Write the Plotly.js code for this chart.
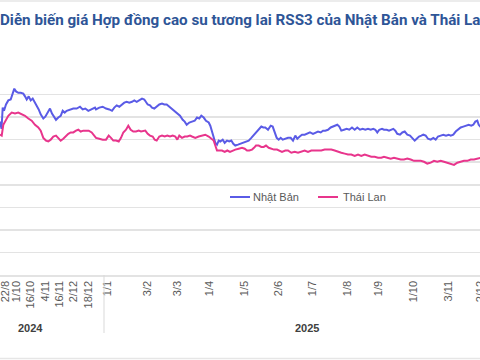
<!DOCTYPE html>
<html>
<head>
<meta charset="utf-8">
<script src="https://cdn.plot.ly/plotly-3.0.1.min.js"></script>
<style>html,body{margin:0;padding:0;background:#fff;}#chart{width:480px;height:360px;}</style>
</head>
<body>
<div id="chart"></div>
<script>
// Session position (trading-day scale of the category axis) and price levels
const jpX = [0,1.5,2.7,4,6,8.3,10.7,12.7,14.3,16,18.3,20.7,23.3,25,26.7,28.7,30.7,32.7,34.7,36.7,38.7,40.7,43.3,45.3,47.3,50,52,54,56,58.3,60.7,62.7,64.7,66.7,70,73.3,76.7,80,82.7,85.3,88.3,91.7,95,
96,99.3,102.7,106,109.3,112,114.3,116.7,119.3,122,124.3,126.7,129.3,132,134.3,136.7,139.3,142,144.3,146,147.7,150,152,154.3,156.7,159.3,162,164.3,166.7,169.3,172,174.7,177.3,180,182.7,184.7,186.7,189.3,192,
194.7,197,199.3,201.3,203.7,206,208.7,210.3,212,213.7,215.3,217,218.7,220.3,222.7,224.7,227,229.3,231.3,233.3,235.3,238,240.7,243.7,246,248.7,251.3,254,256.7,258.7,261.3,263.3,265.3,268,270.7,272.7,274.7,276.7,278.7,280.7,282.7,285.3,288,
290.7,293,295.3,297.3,299.7,302,304.7,307.3,310,313,315.3,318,320.7,323,325.3,328,330.7,333,335.3,337.3,339.3,341.3,344,346.7,349.3,352,354.7,357.3,360,362.7,365.3,368,370.7,373.3,375.3,377.3,379.3,382,384,
386.7,389,391.3,393.3,395.3,397.3,400,402.3,404.7,407.3,410,412.3,414.7,416.7,419,421.3,423.3,425.7,428,430.7,433.3,435.7,438,440.7,443.3,446,448.7,450.7,453.3,455.7,458,460.7,463.3,466,468.7,471.3,473.3,475.3,477.3,478.7,481];
const jpPrice = [340,324,371,364,378,387,389,400,413,407,404,404,402,396,389,396,387,391,384,376,367,356,347,351,360,369,358,351,344,349,353,364,360,364,367,369,369,373,367,369,364,367,371,
367,371,373,369,367,364,371,376,373,378,382,384,382,384,387,384,387,391,389,382,378,376,371,369,373,378,380,378,378,373,367,364,358,353,344,340,333,338,340,
342,349,347,353,349,342,338,331,316,304,293,289,298,296,300,293,298,296,298,291,287,289,291,293,296,298,304,311,318,322,329,327,327,322,331,329,316,304,300,304,300,302,304,
304,298,309,302,307,311,311,313,316,313,316,318,316,320,320,322,327,329,331,333,329,320,322,324,322,327,322,327,322,324,322,324,322,324,322,316,322,324,322,
322,320,322,324,320,313,311,316,318,311,309,304,298,302,307,309,311,309,302,300,304,300,307,309,311,309,311,309,311,318,322,327,329,331,333,331,333,340,342,333,327];

const thX = [0,1.7,3.3,6,8.3,11.7,15,18.3,21.7,25,28.3,31.7,35,38.3,40.7,43.3,46,48.3,50.7,53.3,56,58.3,60.7,63.3,66,68.3,70.7,73.3,76,78.3,80.7,83.3,86,88.7,91.7,94,96,
99.3,102.7,106,108.7,111,113.3,116,118.7,121,123.3,126,128.3,130.7,133.3,136,138.7,141,143.3,145.3,147.7,150,152.7,154.7,156.7,159.3,162,164.7,167.3,170,172.7,175.3,177.3,179.3,182,184.7,187.3,190,192,
195.3,198.7,202,205.3,208.7,212,213.7,215.3,217,219.3,222,224.7,227.3,230,232.7,235.3,238.7,242,244.7,247,249.3,252,254,256,258.7,261.3,263.7,266,268.7,271.3,274,277,279.3,282,285.3,288,
291.3,294.7,298,301.3,304.7,308,311.3,314.7,318,321.3,324.7,328,331.3,334.7,338,341.3,344.7,348,351.3,354.7,358,361.3,364.7,368,371.3,374.7,378,381.3,384,
387.3,390.7,394,397.3,400.7,404,407.3,410.7,414,417.3,420.7,424,427.3,430.7,434,437.3,440.7,444,447.3,450.7,454,457.3,460.7,464,467.3,470.7,474,477.3,481];
const thPrice = [311,309,333,344,353,360,358,360,356,353,347,342,333,327,320,304,298,296,300,307,309,304,298,302,309,313,316,316,320,322,318,320,320,320,316,309,304,
302,300,300,309,304,298,298,296,304,316,322,331,322,318,318,320,318,320,320,313,309,307,300,298,307,309,307,309,307,309,307,300,309,304,307,307,309,307,
304,307,309,311,307,302,298,287,276,276,276,273,276,273,276,278,280,282,280,276,276,278,282,287,287,284,284,287,282,280,278,278,276,273,276,276,
271,273,271,273,276,273,276,276,276,276,278,278,278,276,273,271,269,267,267,264,267,264,267,264,262,262,260,260,262,
260,258,260,258,256,256,258,256,253,253,253,251,247,249,253,251,253,251,249,247,244,249,251,253,253,256,256,258,260];

const tickPos = [5.5,16,30,45,59,73,88,107,147,177,209,244,278,312,347,378,413,448,480];
const tickLabels = ["22/8","1/10","16/10","4/11","16/11","2/12","18/12","1/1","3/2","3/3","1/4","1/5","2/6","1/7","1/8","1/9","1/10","3/11","2/12"];
const years = ["2024","2025"];
const yearPos = [30,307];
const yearSplit = 104;
const seriesNames = ["Nhật Bản","Thái Lan"];
const colors = ["#5a5be6","#e8358c"];

const PT = 72, PB = 85, PH = 360 - PT - PB, PW = 480;
const py = p => (275 - p) / PH;   // pixel row -> paper y (plot bottom at 275)
const grid = "#e3e3e3";

const traces = [
  {x: jpX, y: jpPrice, name: seriesNames[0], type: "scatter", mode: "lines",
   line: {color: colors[0], width: 2}, showlegend: false, hoverinfo: "skip"},
  {x: thX, y: thPrice, name: seriesNames[1], type: "scatter", mode: "lines",
   line: {color: colors[1], width: 2}, showlegend: false, hoverinfo: "skip"}
];

const shapes = [
  {type: "line", xref: "x", yref: "paper", x0: yearSplit, x1: yearSplit, y0: 0, y1: py(333), line: {color: "#d9d9d9", width: 1}},
  {type: "line", xref: "paper", yref: "paper", x0: 0, x1: 1, y0: py(1), y1: py(1), line: {color: "#e6e6e6", width: 1.5}},
  {type: "line", xref: "paper", yref: "paper", x0: 0, x1: 1, y0: py(358.5), y1: py(358.5), line: {color: "#e6e6e6", width: 1.5}},
  {type: "line", xref: "paper", yref: "paper", x0: 230/PW, x1: 250/PW, y0: py(197), y1: py(197), line: {color: colors[0], width: 2}},
  {type: "line", xref: "paper", yref: "paper", x0: 318/PW, x1: 338/PW, y0: py(197), y1: py(197), line: {color: colors[1], width: 2}}
];

const annotations = [
  {text: "<b>Diễn biến giá Hợp đồng cao su tương lai RSS3 của Nhật Bản và Thái Lan</b>", xref: "paper", yref: "paper",
   x: 0, y: py(19.5), xanchor: "left", yanchor: "middle", xshift: -2, showarrow: false,
   font: {family: "Roboto, Arial, sans-serif", size: 15.2, color: "#2e5597"}},
  {text: seriesNames[0], xref: "paper", yref: "paper", x: 251/PW, y: py(197), xanchor: "left", yanchor: "middle", showarrow: false,
   font: {family: "Liberation Sans, Arial, sans-serif", size: 11, color: "#595959"}},
  {text: seriesNames[1], xref: "paper", yref: "paper", x: 341/PW, y: py(197), xanchor: "left", yanchor: "middle", showarrow: false,
   font: {family: "Liberation Sans, Arial, sans-serif", size: 11, color: "#595959"}}
];
years.forEach((t, i) => annotations.push({
  text: "<b>" + t + "</b>", xref: "x", yref: "paper", x: yearPos[i], y: py(327.5), xanchor: "center", yanchor: "middle",
  showarrow: false, font: {family: "Liberation Sans, Arial, sans-serif", size: 11, color: "#404040"}
}));

const layout = {
  width: 480, height: 360,
  margin: {l: 0, r: 0, t: PT, b: PB, pad: 0},
  paper_bgcolor: "#ffffff", plot_bgcolor: "#ffffff",
  showlegend: false,
  xaxis: {range: [0, 480], tickmode: "array", tickvals: tickPos, ticktext: tickLabels, tickangle: -90,
          ticklabeloverflow: "allow",
          showgrid: false, zeroline: false, showline: true, linecolor: grid, linewidth: 1.5, ticks: "",
          tickfont: {family: "Liberation Sans, Arial, sans-serif", size: 11, color: "#595959"}, fixedrange: true},
  yaxis: {range: [0, 450], dtick: 50, showgrid: true, gridcolor: grid, gridwidth: 1.5, zeroline: false,
          showticklabels: false, ticks: "", showline: false, fixedrange: true},
  shapes: shapes, annotations: annotations
};

Plotly.newPlot("chart", traces, layout, {displayModeBar: false, staticPlot: true});
</script>
</body>
</html>
